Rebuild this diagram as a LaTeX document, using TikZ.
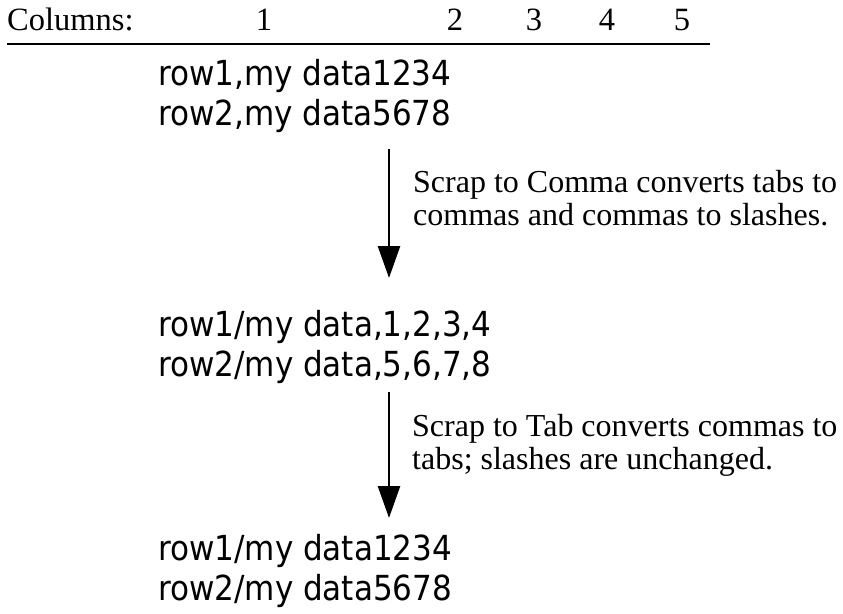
\documentclass[tikz,border=0pt]{standalone}
\usepackage{fontspec}
\setmainfont{Liberation Serif}
\newfontfamily\datafont{DejaVu Sans Condensed}
\usetikzlibrary{arrows.meta}
\begin{document}
\begin{tikzpicture}[x=1pt,y=-1pt,
  serif/.style={font=\fontsize{32.5}{33}\selectfont, inner sep=0pt, anchor=base west},
  note/.style={font=\fontsize{32}{33}\selectfont, inner sep=0pt, anchor=base west},
  colnum/.style={font=\fontsize{32.5}{33}\selectfont, inner sep=0pt, anchor=base},
  data/.style={font=\datafont\fontsize{34.5}{40}\selectfont, inner sep=0pt, anchor=base west},
  flow/.style={line width=2.6pt, -{Triangle[length=32pt,width=22pt]}},
  rulestyle/.style={line width=2.8pt}]
\useasboundingbox (0,0) rectangle (843,613);

% column header
\node[serif]  (hdr) at (7,30) {Columns:};
\node[colnum] (c1) at (264,30) {1};
\node[colnum] (c2) at (455,30) {2};
\node[colnum] (c3) at (534,30) {3};
\node[colnum] (c4) at (607,30) {4};
\node[colnum] (c5) at (682,30) {5};
\coordinate (rl) at (7,44);
\coordinate (rr) at (710,44);
\draw[rulestyle] (rl) -- (rr);

% original rows
\node[data] (a1) at (158,85) {row1,my data1234};
\node[data] (a2) at (158,125) {row2,my data5678};

% first conversion
\coordinate (s1) at (389,149);
\coordinate (e1) at (389,278);
\draw[flow] (s1) -- (e1);
\node[note] (l1a) at (413,192) {Scrap to Comma converts tabs to};
\node[note] (l1b) at (413,225) {commas and commas to slashes.};

% comma-separated rows
\node[data] (b1) at (158,336) {row1/my data,1,2,3,4};
\node[data] (b2) at (158,376) {row2/my data,5,6,7,8};

% second conversion
\coordinate (s2) at (389,392);
\coordinate (e2) at (389,518);
\draw[flow] (s2) -- (e2);
\node[note] (l2a) at (412,436) {Scrap to Tab converts commas to};
\node[note] (l2b) at (412,469) {tabs; slashes are unchanged.};

% restored rows
\node[data] (d1) at (158,560) {row1/my data1234};
\node[data] (d2) at (158,600) {row2/my data5678};
\end{tikzpicture}
\end{document}
